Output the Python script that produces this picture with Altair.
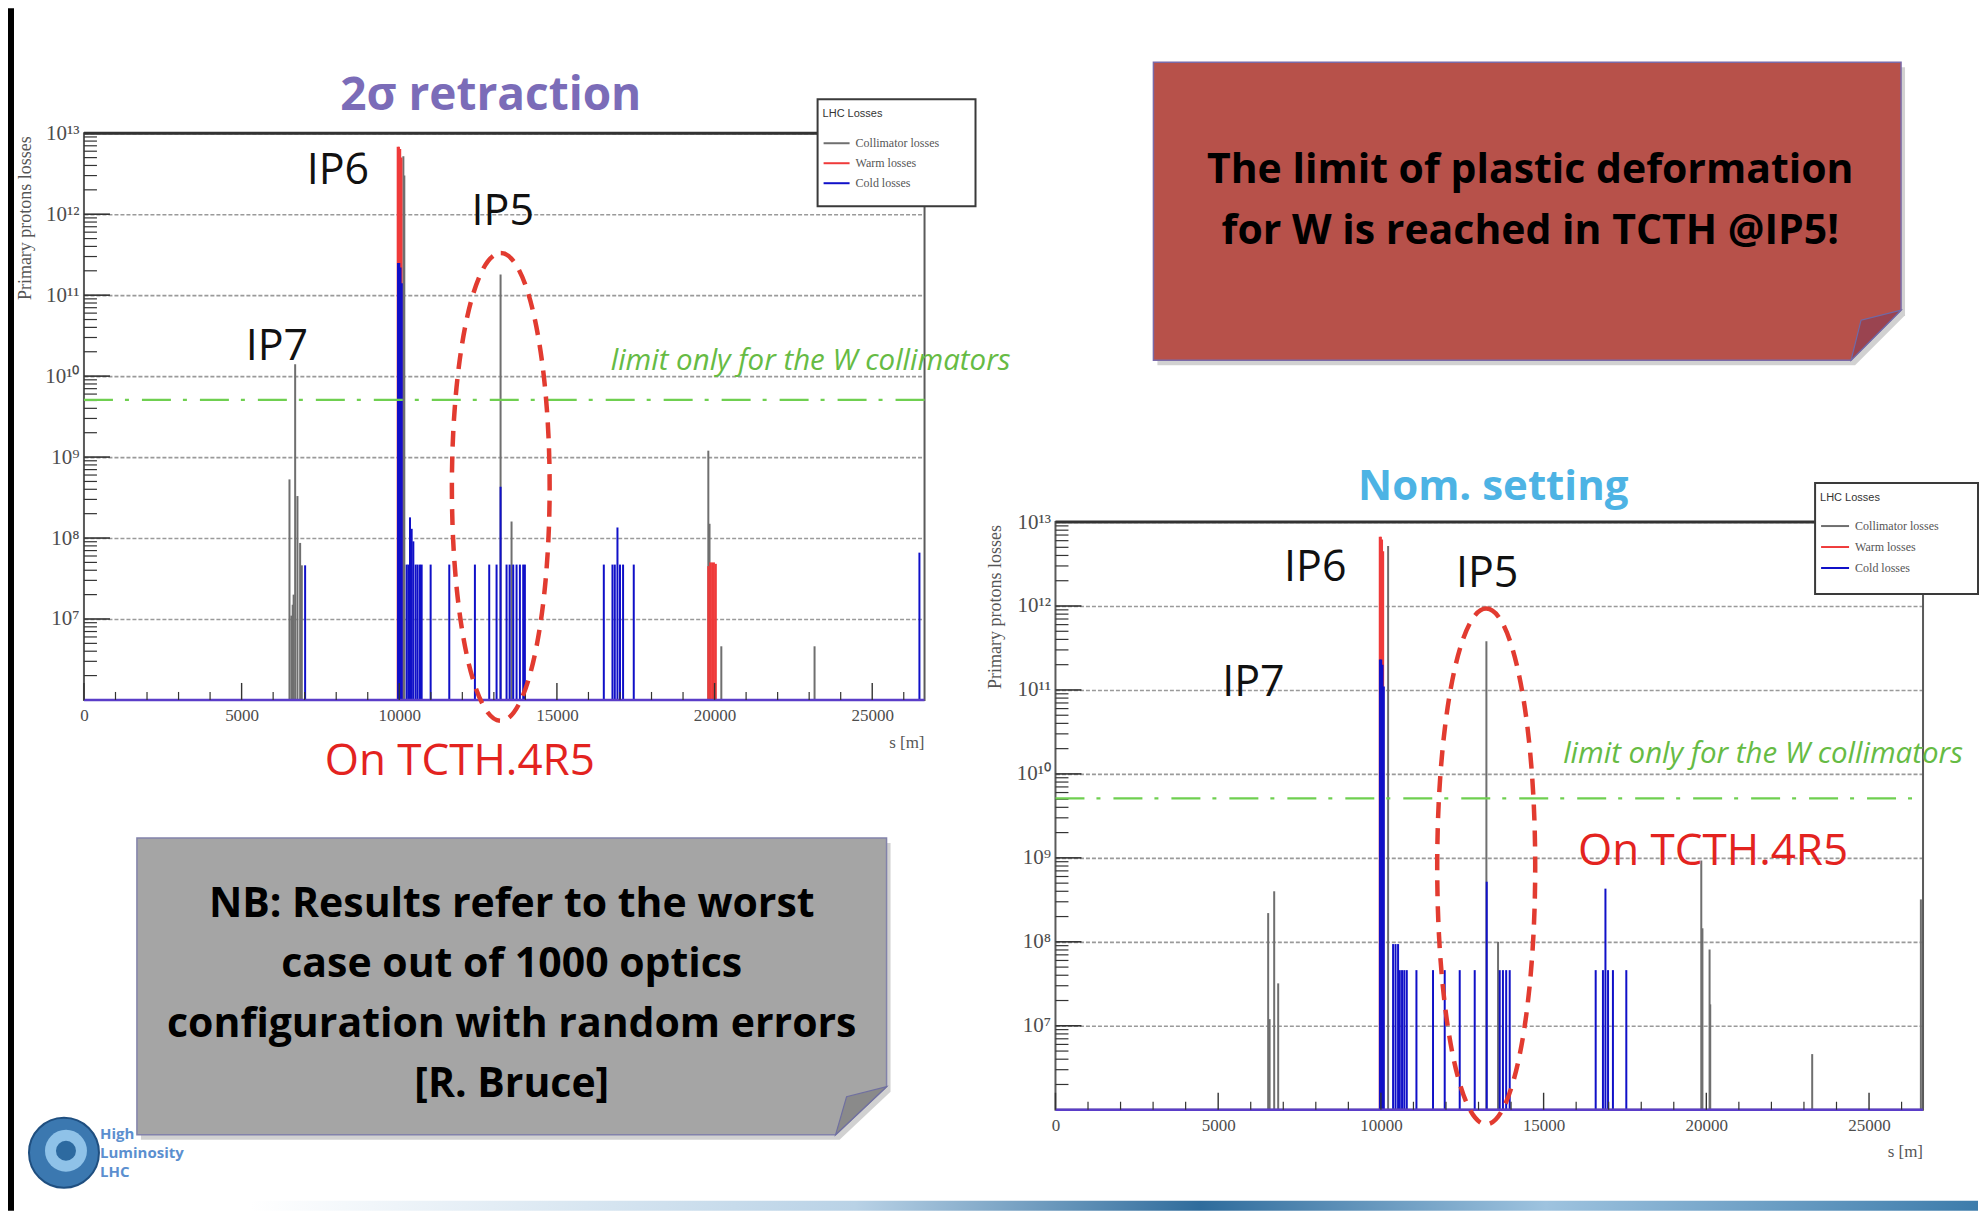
import altair as alt
import pandas as pd

# ---------------- data ----------------
CATEGORIES = ["Collimator losses", "Warm losses", "Cold losses"]
CAT_COLORS = ["#6f6f6f", "#ef3a3a", "#1010c8"]
CAT_OPACITY = [1.0, 1.0, 0.62]

S_MAX = 26659
Y_MIN = 1e6
Y_MAX = 1e13
W_LIMIT = 5.1e9

X_LABEL_VALUES = [0, 5000, 10000, 15000, 20000, 25000]
X_MINOR_VALUES = [1000, 2000, 3000, 4000, 6000, 7000, 8000, 9000, 11000, 12000, 13000,
                  14000, 16000, 17000, 18000, 19000, 21000, 22000, 23000, 24000, 26000]
Y_LABEL_VALUES = [1e7, 1e8, 1e9, 1e10, 1e11, 1e12, 1e13]
Y_LABELS = ["10\u2077", "10\u2078", "10\u2079", "10\u00b9\u2070", "10\u00b9\u00b9", "10\u00b9\u00b2", "10\u00b9\u00b3"]
Y_MINOR_MANTISSA = [2, 3, 4, 5, 6, 7, 8, 9]
Y_MINOR_EXPONENT = [6, 7, 8, 9, 10, 11, 12]

# 2 sigma retraction
L_COLL_S = [6518, 6580, 6620, 6650, 6698, 6771, 6856, 6909, 10130, 10160, 13213, 13561, 19802, 19840, 20214, 23171]
L_COLL_V = [5.3e8, 1.1e7, 1.5e7, 2.0e7, 1.4e10, 3.3e8, 8.7e7, 4.6e7, 5.2e12, 3.0e12, 1.8e11, 1.6e8, 1.2e9, 1.5e8, 4.6e6, 4.6e6]
L_WARM_S = [9950, 9990, 10030, 10070, 19800, 19860, 19920, 19980, 20040]
L_WARM_V = [6.8e12, 6.8e12, 6.4e12, 5.0e12, 4.5e7, 5.0e7, 5.0e7, 5.0e7, 4.8e7]
L_COLD_S = [7014, 9960, 10000, 10040, 10080, 10234, 10290, 10340, 10393, 10446, 10520, 10583, 10657, 10710,
            10995, 11586, 12399, 12853, 13086, 13213, 13403, 13500, 13614, 13720, 13826, 13931, 13984,
            16487, 16762, 16835, 16920, 17000, 17098, 17437, 26497]
L_COLD_V = [4.6e7, 2.5e11, 2.5e11, 2.2e11, 1.4e11, 4.7e7, 4.7e7, 1.8e8, 1.3e8, 9.1e7, 4.7e7, 4.7e7, 4.7e7, 4.7e7,
            4.7e7, 4.7e7, 4.7e7, 4.7e7, 4.7e7, 4.3e8, 4.7e7, 4.7e7, 4.7e7, 4.7e7, 4.7e7, 4.7e7, 4.7e7,
            4.7e7, 4.7e7, 4.7e7, 1.35e8, 4.7e7, 4.7e7, 4.7e7, 6.6e7]

# Nominal setting
R_COLL_S = [6536, 6580, 6721, 6844, 10222, 13242, 13600, 19845, 19880, 20100, 20120, 23253, 26593]
R_COLL_V = [2.2e8, 1.2e7, 4.0e8, 3.2e7, 5.2e12, 3.8e11, 1.0e8, 9.3e8, 1.45e8, 8.1e7, 1.8e7, 4.6e6, 3.2e8]
R_WARM_S = [9965, 10000, 10035, 10070]
R_WARM_V = [6.7e12, 6.7e12, 6.2e12, 4.5e12]
R_COLD_S = [9970, 10010, 10050, 10090, 10375, 10450, 10528, 10580, 10650, 10720, 10795, 11092, 11602, 11961,
            12422, 12883, 13252, 13651, 13750, 13850, 13958, 16600, 16823, 16900, 16980, 17130, 17541]
R_COLD_V = [2.3e11, 2.3e11, 2.0e11, 1.1e11, 9.4e7, 9.4e7, 9.4e7, 4.6e7, 4.6e7, 4.6e7, 4.6e7, 4.6e7, 4.6e7, 4.6e7,
            4.6e7, 4.6e7, 5.2e8, 4.6e7, 4.6e7, 4.6e7, 4.6e7, 4.6e7, 4.6e7, 4.3e8, 4.6e7, 4.6e7, 4.6e7]

# annotations (label, s [m], losses)
L_IP_LABELS = ["IP6", "IP5", "IP7"]
L_IP_S = [8052, 13282, 6118]
L_IP_V = [3.4e12, 1.05e12, 2.3e10]
R_IP_LABELS = ["IP6", "IP5", "IP7"]
R_IP_S = [7985, 13267, 6081]
R_IP_V = [2.8e12, 2.4e12, 1.2e11]

RED_BOX_LINES = ["The limit of plastic deformation", "for W is reached in TCTH @IP5!"]
GRAY_BOX_LINES = ["NB: Results refer to the worst", "case out of 1000 optics",
                  "configuration with random errors", "[R. Bruce]"]
LOGO_LINES = ["High", "Luminosity", "LHC"]

# ---------------- helpers ----------------
DUMMY = pd.DataFrame({"k": [0]})


def spikes_df(coll_s, coll_v, warm_s, warm_v, cold_s, cold_v):
    rows = []
    for cat, ss, vv in zip(CATEGORIES, [coll_s, warm_s, cold_s], [coll_v, warm_v, cold_v]):
        assert len(ss) == len(vv)
        for s, v in zip(ss, vv):
            rows.append({"cat": cat, "s": s, "v": v, "base": Y_MIN})
    return pd.DataFrame(rows)


def poly_layer(points, origin, opacity=1.0, **style):
    xs_ = [p[0] for p in points]
    ys_ = [p[1] for p in points]
    cx = (min(xs_) + max(xs_)) / 2
    cy = (min(ys_) + max(ys_)) / 2
    half = max(max(xs_) - min(xs_), max(ys_) - min(ys_)) / 2
    d = "M" + " L".join(f"{(x - cx) / half:.4f},{(y - cy) / half:.4f}" for x, y in points) + " Z"
    return alt.Chart(DUMMY).mark_point(shape=d, size=(2 * half) ** 2, filled=True,
                                       opacity=opacity, **style).encode(
        x=alt.value(cx - origin[0]), y=alt.value(cy - origin[1]))


def ellipse_path(ratio):
    r = f"{ratio:.4f}"
    return f"M0,-1 A{r},1 0 1,1 0,1 A{r},1 0 1,1 0,-1 Z"


label_expr = " : ".join(
    f"datum.value > {v / 2:g} ? '{l}'" for v, l in reversed(list(zip(Y_LABEL_VALUES, Y_LABELS)))
) + " : ''"

Y_MINOR = [m * 10.0 ** e for e in Y_MINOR_EXPONENT for m in Y_MINOR_MANTISSA]

SLIDE_FONT = "Open Sans"
SERIF = "Liberation Serif"


def panel(cfg):
    W, H = cfg["W"], cfg["H"]
    ox, oy = cfg["origin"]
    xs = alt.Scale(domain=[0, S_MAX], nice=False, zero=False)
    ys = alt.Scale(type="log", domain=[Y_MIN, Y_MAX], nice=False, range=cfg["yrange"])

    x_axis = alt.Axis(values=X_LABEL_VALUES, ticks=False, domain=False, grid=False, format="d",
                      labelFont=SERIF, labelFontSize=17, labelColor="#4d4d4d", labelPadding=8,
                      labelFlush=False, labelOverlap=False, title=None)
    y_axis = alt.Axis(values=Y_LABEL_VALUES, ticks=False, domain=False, grid=True,
                      gridColor="#9a9a9a", gridDash=[4, 2], gridWidth=1.6,
                      labelExpr=label_expr, labelFont=SERIF, labelFontSize=21,
                      labelColor="#4d4d4d", labelPadding=5, labelFlush=False,
                      labelOverlap=False, title=None)
    leg = cfg["legend"]
    legend = alt.Legend(orient="none", legendX=leg["x"], legendY=leg["y"], direction="vertical",
                        title="LHC Losses", titleFont="Liberation Sans", titleFontSize=11,
                        titleFontWeight="normal", titleColor="#333", titlePadding=leg["tp"],
                        labelFont=SERIF, labelFontSize=12, labelColor="#555",
                        symbolType="stroke", symbolSize=leg["sym"] ** 2, symbolStrokeWidth=2,
                        rowPadding=0, padding=5, labelOffset=5)

    X = lambda f: alt.X(f, type="quantitative", scale=xs, axis=x_axis)
    Y = lambda f: alt.Y(f, type="quantitative", scale=ys, axis=y_axis)

    df = spikes_df(*cfg["data"])
    spikes = alt.Chart(df).mark_rule(strokeWidth=2).encode(
        x=X("s"),
        y=Y("v"),
        y2="base:Q",
        color=alt.Color("cat:N", scale=alt.Scale(domain=CATEGORIES, range=CAT_COLORS), legend=legend),
        opacity=alt.Opacity("cat:N", scale=alt.Scale(domain=CATEGORIES, range=CAT_OPACITY), legend=None),
    )

    frame_df = pd.DataFrame({"s0": [0], "s1": [S_MAX], "v0": [Y_MIN], "v1": [Y_MAX], "lim": [W_LIMIT]})
    frame = alt.Chart(frame_df).mark_rect(fillOpacity=0, stroke="#5a5a5a", strokeWidth=2).encode(
        x=X("s0"), x2="s1", y=Y("v0"), y2="v1")
    top_line = alt.Chart(frame_df).mark_rule(color="#333", strokeWidth=3).encode(
        x=X("s0"), x2="s1", y=Y("v1"))
    bottom_line = alt.Chart(frame_df).mark_rule(color="#5a3dc8", strokeWidth=2.5).encode(
        x=X("s0"), x2="s1", y=Y("v0"))
    limit_line = alt.Chart(frame_df).mark_rule(color="#6fcf50", strokeWidth=2.2,
                                               strokeDash=[29, 12, 4, 13]).encode(
        x=X("s0"), x2="s1", y=Y("lim"))

    ymaj = alt.Chart(pd.DataFrame({"t": Y_LABEL_VALUES[:-1]})).mark_rule(color="#333", strokeWidth=1.6).encode(
        y=Y("t"), x=alt.value(0), x2=alt.value(26))
    ymin = alt.Chart(pd.DataFrame({"t": Y_MINOR})).mark_rule(color="#333", strokeWidth=1.2).encode(
        y=Y("t"), x=alt.value(0), x2=alt.value(13))
    xmaj = alt.Chart(pd.DataFrame({"t": X_LABEL_VALUES})).mark_rule(color="#333", strokeWidth=1.4).encode(
        x=X("t"), y=alt.value(H), y2=alt.value(H - 17))
    xmin = alt.Chart(pd.DataFrame({"t": X_MINOR_VALUES})).mark_rule(color="#333", strokeWidth=1.2).encode(
        x=X("t"), y=alt.value(H), y2=alt.value(H - 8))

    ip_df = pd.DataFrame({"label": cfg["ip"][0], "s": cfg["ip"][1], "v": cfg["ip"][2]})
    ips = alt.Chart(ip_df).mark_text(font=SLIDE_FONT, fontSize=43, color="#111",
                                     baseline="middle", align="center").encode(
        x=X("s"), y=Y("v"), text="label:N")

    ann = cfg["ann"]
    tcth = alt.Chart(pd.DataFrame({"s": [ann["tcth"][0]], "v": [ann["tcth"][1]]})).mark_text(
        text="On TCTH.4R5", font=SLIDE_FONT, fontSize=44, color="#e3231f",
        baseline="middle", align="center").encode(x=X("s"), y=Y("v"))
    limit_txt = alt.Chart(pd.DataFrame({"s": [ann["limit"][0]], "v": [ann["limit"][1]]})).mark_text(
        text="limit only for the W collimators", font=SLIDE_FONT, fontSize=29.5, fontStyle="italic",
        color="#66bb44", baseline="middle", align="center").encode(x=X("s"), y=Y("v"))
    ell = alt.Chart(pd.DataFrame({"s": [ann["ell"][0]], "v": [ann["ell"][1]]})).mark_point(
        shape=ellipse_path(ann["ell"][2]), size=(2 * ann["ell"][3]) ** 2, filled=False, opacity=1,
        stroke="#e23b30", strokeWidth=4.5, strokeDash=[16, 10]).encode(x=X("s"), y=Y("v"))

    lb = cfg["legbox"]
    legbox = alt.Chart(DUMMY).mark_rect(fill="white", stroke="#3a3a3a", strokeWidth=2).encode(
        x=alt.value(lb[0] - ox), x2=alt.value(lb[2] - ox), y=alt.value(lb[1] - oy), y2=alt.value(lb[3] - oy))

    t = cfg["title"]
    title = alt.Chart(DUMMY).mark_text(text=t["text"], font=SLIDE_FONT, fontWeight="bold", fontSize=t["size"],
                                       color=t["color"], align="center", baseline="middle").encode(
        x=alt.value(t["x"] - ox), y=alt.value(t["y"] - oy))
    ytitle = alt.Chart(DUMMY).mark_text(text="Primary protons losses", font=SERIF, fontSize=18,
                                        color="#555", angle=270, align="right", baseline="middle").encode(
        x=alt.value(cfg["ytitle"][0] - ox), y=alt.value(cfg["ytitle"][1] - oy))
    xtitle = alt.Chart(DUMMY).mark_text(text="s [m]", font=SERIF, fontSize=17, color="#555",
                                        align="right", baseline="middle").encode(
        x=alt.value(W), y=alt.value(cfg["xtitle_y"] - oy))

    layers = list(cfg.get("under", [])) + [spikes, frame, top_line, bottom_line, ymaj, ymin, xmaj, xmin,
                                           limit_line, ell, legbox, ips, tcth, limit_txt, title, ytitle,
                                           xtitle] + list(cfg.get("over", []))
    return alt.layer(*layers).properties(width=W, height=H,
                                         view=alt.ViewBackground(stroke="transparent", strokeWidth=0))


# ---------------- layout (page pixels) ----------------
O1 = (84, 133)
O2 = (1056, 133)

# slide decorations for the left column
deco_left = [
    # bounds of the slide content box (transparent)
    alt.Chart(DUMMY).mark_rect(fillOpacity=0, strokeOpacity=0).encode(
        x=alt.value(8 - O1[0]), x2=alt.value(1979 - O1[0]), y=alt.value(8 - O1[1]), y2=alt.value(1211 - O1[1])),
    # black edge of the slide
    alt.Chart(DUMMY).mark_rect(color="black").encode(
        x=alt.value(8 - O1[0]), x2=alt.value(14 - O1[0]), y=alt.value(8 - O1[1]), y2=alt.value(1211 - O1[1])),
    # bottom swoosh
    alt.Chart(DUMMY).mark_rect(color=alt.Gradient(
        gradient="linear", x1=0, x2=1, y1=0, y2=0,
        stops=[alt.GradientStop(offset=0, color="#ffffff"), alt.GradientStop(offset=0.35, color="#b9d2e6"),
               alt.GradientStop(offset=0.55, color="#2f6c9c"), alt.GradientStop(offset=0.75, color="#9ec3df"),
               alt.GradientStop(offset=1, color="#3d7cab")])).encode(
        x=alt.value(250 - O1[0]), x2=alt.value(1979 - O1[0]), y=alt.value(1201 - O1[1]), y2=alt.value(1211 - O1[1])),
]
gray_box = [
    poly_layer([(141, 843), (891, 843), (891, 1092), (840, 1140), (141, 1140)], O1, opacity=0.18, fill="#000"),
    poly_layer([(137, 838), (887, 838), (887, 1087), (836, 1135), (137, 1135)], O1,
               fill="#a5a5a5", stroke="#8282aa", strokeWidth=1.5),
    poly_layer([(887, 1087), (836, 1135), (847, 1097)], O1, fill="#8a8a8a", stroke="#7070a0", strokeWidth=1.2),
    alt.Chart(DUMMY).mark_text(text=GRAY_BOX_LINES, font=SLIDE_FONT, fontWeight="bold", fontSize=41,
                               lineHeight=60, color="black", align="center", baseline="middle").encode(
        x=alt.value(512 - O1[0]), y=alt.value(905 - O1[1])),
]
logo = [
    alt.Chart(DUMMY).mark_point(shape="circle", size=70 ** 2, filled=True, opacity=1, fill="#3b78b0",
                                stroke="#1f4f80", strokeWidth=2).encode(
        x=alt.value(64 - O1[0]), y=alt.value(1153 - O1[1])),
    alt.Chart(DUMMY).mark_point(shape="circle", size=42 ** 2, filled=True, opacity=1, fill="#8fc2e8").encode(
        x=alt.value(66 - O1[0]), y=alt.value(1151 - O1[1])),
    alt.Chart(DUMMY).mark_point(shape="circle", size=20 ** 2, filled=True, opacity=1, fill="#2d6aa0").encode(
        x=alt.value(66 - O1[0]), y=alt.value(1151 - O1[1])),
    alt.Chart(DUMMY).mark_text(text=LOGO_LINES, font=SLIDE_FONT, fontWeight="bold", fontSize=15, lineHeight=19,
                               color="#5b8fcf", align="left", baseline="middle").encode(
        x=alt.value(100 - O1[0]), y=alt.value(1134 - O1[1])),
]
red_box = [
    poly_layer([(1158, 67), (1906, 67), (1906, 315), (1856, 365), (1158, 365)], O2, opacity=0.18, fill="#000"),
    poly_layer([(1154, 62), (1902, 62), (1902, 310), (1852, 360), (1154, 360)], O2,
               fill="#b7514a", stroke="#7a6aa8", strokeWidth=1.5),
    poly_layer([(1902, 310), (1852, 360), (1862, 320)], O2, fill="#9a4450", stroke="#6e6aa8", strokeWidth=1.2),
    alt.Chart(DUMMY).mark_text(text=RED_BOX_LINES, font=SLIDE_FONT, fontWeight="bold", fontSize=41,
                               lineHeight=61, color="black", align="center", baseline="middle").encode(
        x=alt.value(1531 - O2[0]), y=alt.value(171 - O2[1])),
]

left_cfg = dict(
    W=841, H=567, origin=O1, yrange=[567, 0],
    data=(L_COLL_S, L_COLL_V, L_WARM_S, L_WARM_V, L_COLD_S, L_COLD_V),
    ip=(L_IP_LABELS, L_IP_S, L_IP_V),
    ann=dict(tcth=(11919, 1.7e5), limit=(23046, 1.55e10), ell=(13219, 4.27e8, 0.209, 234)),
    legend=dict(x=818 - O1[0], y=103 - O1[1], tp=10, sym=26),
    legbox=(818, 99, 976, 206),
    title=dict(text="2\u03c3 retraction", color="#7b6cb8", x=491, y=96, size=46),
    ytitle=(26, 136), xtitle_y=743,
    under=deco_left + gray_box + logo,
)
right_cfg = dict(
    W=868, H=977, origin=O2, yrange=[977, 389],
    data=(R_COLL_S, R_COLL_V, R_WARM_S, R_WARM_V, R_COLD_S, R_COLD_V),
    ip=(R_IP_LABELS, R_IP_S, R_IP_V),
    ann=dict(tcth=(20207, 1.17e9), limit=(21743, 1.74e10), ell=(13236, 7.9e8, 0.19, 258)),
    legend=dict(x=1816 - O2[0], y=487 - O2[1], tp=8, sym=28),
    legbox=(1816, 483, 1979, 594),
    title=dict(text="Nom. setting", color="#4db3e4", x=1494, y=487, size=42),
    ytitle=(997, 525), xtitle_y=1152,
    under=red_box,
)

chart = alt.hconcat(panel(left_cfg), panel(right_cfg), spacing=131, bounds="flush").resolve_scale(
    x="independent", y="independent", color="independent", opacity="independent"
).resolve_legend(color="independent").properties(padding=0).configure_view(
    stroke="transparent", strokeWidth=0).configure(background="white")

chart.save("out.html", embed_options={"renderer": "svg", "actions": False})
